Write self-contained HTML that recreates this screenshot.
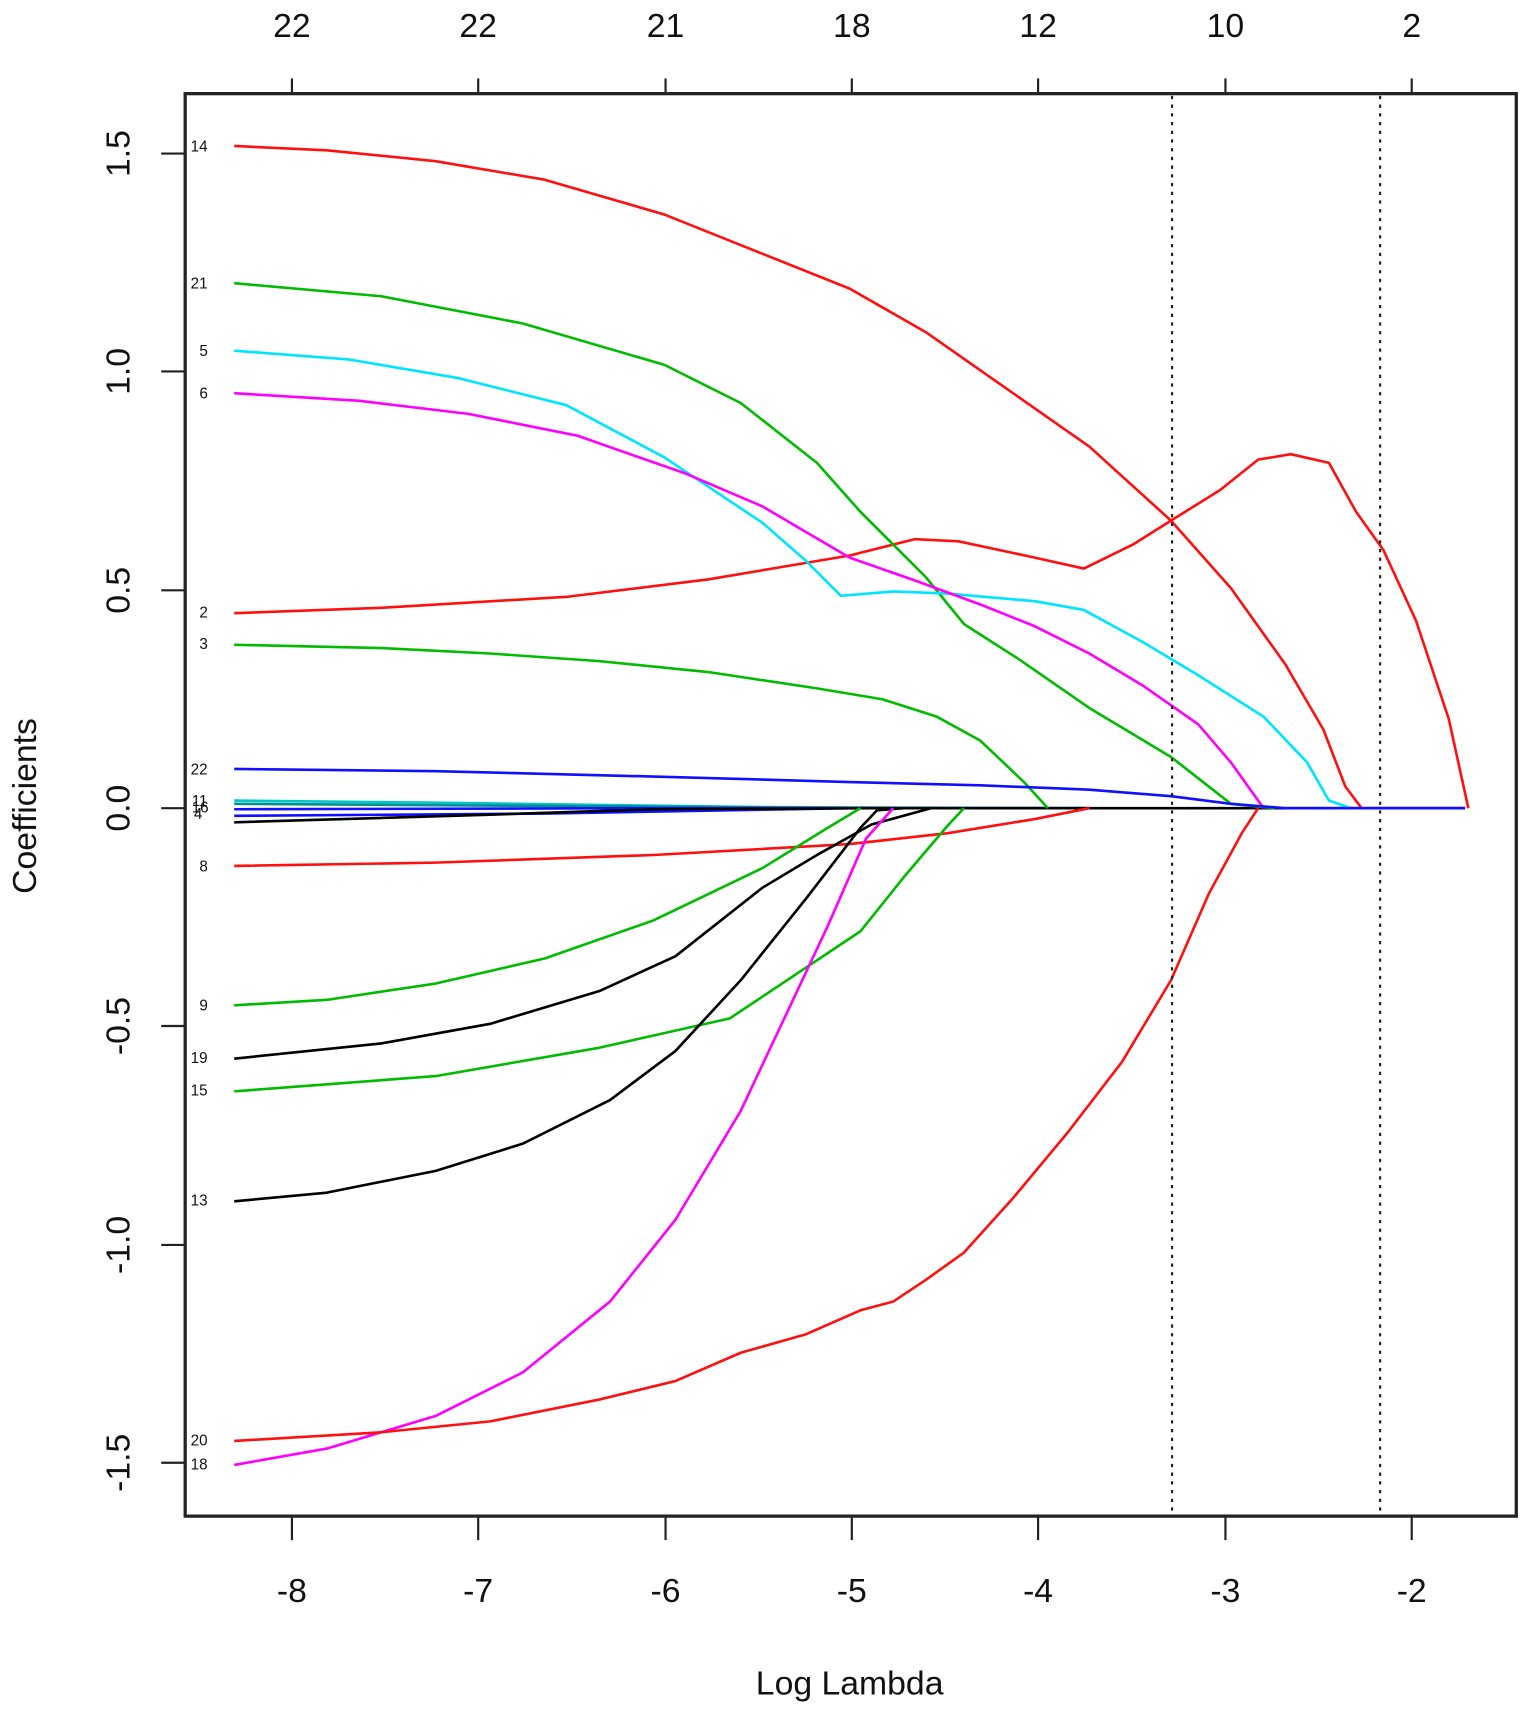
<!DOCTYPE html>
<html><head><style>html,body{margin:0;padding:0;background:#fff}svg{display:block}</style></head>
<body>
<svg width="1525" height="1710" viewBox="0 0 1400 1570" preserveAspectRatio="none" xmlns="http://www.w3.org/2000/svg" font-family="Liberation Sans, sans-serif">
<rect x="170" y="86" width="1222" height="1306" fill="none" stroke="#222" stroke-width="3"/>
<g stroke="#222" stroke-width="2">
<line x1="268" y1="1392" x2="268" y2="1414"/><line x1="439" y1="1392" x2="439" y2="1414"/><line x1="611" y1="1392" x2="611" y2="1414"/><line x1="782" y1="1392" x2="782" y2="1414"/><line x1="953" y1="1392" x2="953" y2="1414"/><line x1="1125" y1="1392" x2="1125" y2="1414"/><line x1="1296" y1="1392" x2="1296" y2="1414"/>
<line x1="268" y1="72" x2="268" y2="86"/><line x1="439" y1="72" x2="439" y2="86"/><line x1="611" y1="72" x2="611" y2="86"/><line x1="782" y1="72" x2="782" y2="86"/><line x1="953" y1="72" x2="953" y2="86"/><line x1="1125" y1="72" x2="1125" y2="86"/><line x1="1296" y1="72" x2="1296" y2="86"/>
<line x1="148" y1="141" x2="170" y2="141"/><line x1="148" y1="341" x2="170" y2="341"/><line x1="148" y1="542" x2="170" y2="542"/><line x1="148" y1="742" x2="170" y2="742"/><line x1="148" y1="942" x2="170" y2="942"/><line x1="148" y1="1143" x2="170" y2="1143"/><line x1="148" y1="1343" x2="170" y2="1343"/>
</g>
<g font-size="31" text-anchor="middle" fill="#111">
<text x="268" y="1471">-8</text><text x="439" y="1471">-7</text><text x="611" y="1471">-6</text><text x="782" y="1471">-5</text><text x="953" y="1471">-4</text><text x="1125" y="1471">-3</text><text x="1296" y="1471">-2</text>
<text x="268" y="34">22</text><text x="439" y="34">22</text><text x="611" y="34">21</text><text x="782" y="34">18</text><text x="953" y="34">12</text><text x="1125" y="34">10</text><text x="1296" y="34">2</text>
<text x="780" y="1556">Log Lambda</text>
<text transform="translate(33,740) rotate(-90)">Coefficients</text>
<text transform="translate(119,141) rotate(-90)">1.5</text>
<text transform="translate(119,341) rotate(-90)">1.0</text>
<text transform="translate(119,542) rotate(-90)">0.5</text>
<text transform="translate(119,742) rotate(-90)">0.0</text>
<text transform="translate(119,942) rotate(-90)">-0.5</text>
<text transform="translate(119,1143) rotate(-90)">-1.0</text>
<text transform="translate(119,1343) rotate(-90)">-1.5</text>
</g>
<g font-size="14" fill="#111">
<text x="175" y="139">14</text><text x="175" y="265">21</text><text x="183" y="327">5</text><text x="183" y="366">6</text><text x="183" y="567">2</text><text x="183" y="596">3</text><text x="175" y="711">22</text><text x="176" y="740">11</text><text x="176" y="746">16</text><text x="178" y="752">4</text><text x="183" y="800">8</text><text x="183" y="928">9</text><text x="175" y="976">19</text><text x="175" y="1006">15</text><text x="175" y="1107">13</text><text x="175" y="1327">20</text><text x="175" y="1349">18</text>
</g>
<g fill="none" stroke-width="2.4" stroke-linejoin="round">
<polyline stroke="#00c8c8" points="215,735 400,737 700,741 1000,742"/>
<polyline stroke="#009090" points="215,738 500,740 800,742"/>
<polyline stroke="#1010ff" points="215,743 600,742 1000,742"/>
<polyline stroke="#1010ff" points="215,749 500,747 780,742"/>
<polyline stroke="#000" points="215,755 450,748 600,743 800,742 1345,742"/>
<polyline stroke="#ff1010" points="215,134 300,138 400,148 500,165 610,197 700,233 780,265 850,305 950,375 1000,410 1075,478 1130,540 1180,610 1215,670 1235,722 1250,742 1345,742"/>
<polyline stroke="#ff1010" points="215,563 350,558 520,548 650,532 780,510 840,495 880,497 950,512 995,522 1040,500 1075,478 1120,450 1155,422 1185,417 1220,425 1245,470 1270,505 1300,570 1330,660 1348,742"/>
<polyline stroke="#00bb00" points="215,260 350,272 480,297 610,335 680,370 750,425 790,470 820,500 850,530 885,573 935,605 1000,650 1075,695 1130,738 1170,742"/>
<polyline stroke="#00e5ff" points="215,322 320,330 420,347 520,372 610,420 700,480 740,515 772,547 820,543 870,545 950,552 995,560 1050,590 1100,620 1160,658 1200,700 1220,735 1240,742"/>
<polyline stroke="#ff00ff" points="215,361 330,368 430,380 530,400 630,435 700,465 780,512 840,533 900,555 950,575 1000,600 1050,630 1100,665 1130,700 1160,742"/>
<polyline stroke="#00bb00" points="215,592 350,595 450,600 550,607 650,617 750,632 810,642 860,658 900,680 940,718 962,742"/>
<polyline stroke="#1010ff" points="215,706 400,708 600,713 780,718 900,721 1000,725 1075,731 1130,738 1180,742 1345,742"/>
<polyline stroke="#ff1010" points="215,795 400,792 600,785 780,775 870,765 950,752 1000,742"/>
<polyline stroke="#00bb00" points="215,923 300,918 400,903 500,880 600,845 700,797 760,760 790,742"/>
<polyline stroke="#000" points="215,972 350,958 450,940 550,910 620,878 700,815 750,785 800,757 855,742"/>
<polyline stroke="#00bb00" points="215,1002 400,988 550,962 670,935 730,895 790,855 830,805 870,758 885,742"/>
<polyline stroke="#000" points="215,1103 300,1095 400,1075 480,1050 560,1010 620,965 680,900 740,825 790,760 805,744 830,742"/>
<polyline stroke="#ff00ff" points="215,1345 300,1330 400,1300 480,1260 560,1195 620,1120 680,1020 720,935 760,850 795,770 820,742"/>
<polyline stroke="#ff1010" points="215,1323 350,1315 450,1305 550,1285 620,1268 680,1242 740,1225 790,1203 820,1195 850,1175 885,1150 930,1100 980,1040 1030,975 1075,900 1110,820 1140,765 1155,742"/>
</g>
<g stroke="#222" stroke-width="2" stroke-dasharray="3,5">
<line x1="1076" y1="88" x2="1076" y2="1391"/><line x1="1267" y1="88" x2="1267" y2="1391"/>
</g>
</svg>
</body></html>
